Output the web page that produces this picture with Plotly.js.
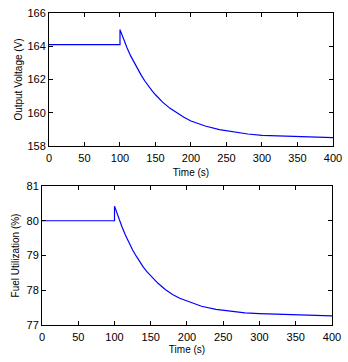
<!DOCTYPE html>
<html>
<head>
<meta charset="utf-8">
<script src="https://cdn.plot.ly/plotly-3.0.1.min.js"></script>
<style>
  html, body { margin: 0; padding: 0; background: #fff; }
  #chart { width: 348px; height: 362px; }
</style>
</head>
<body>
<div id="chart"></div>
<script>
// time axis (s), shared by both panels
var time = [0, 100, 100, 105, 110, 115, 120, 125, 130, 135, 140, 145, 150, 160,
  170, 180, 190, 200, 210, 220, 240, 260, 280, 300, 325, 350, 375, 400];

// output voltage (V)
var voltage = [164.1, 164.1, 165.0, 164.43, 163.9, 163.42, 163.0, 162.6, 162.25,
  161.91, 161.6, 161.33, 161.08, 160.64, 160.28, 159.98, 159.73, 159.5, 159.34,
  159.2, 158.98, 158.83, 158.72, 158.64, 158.6, 158.56, 158.53, 158.5];

// fuel utilization (%)
var fuel = [80.0, 80.0, 80.42, 80.12, 79.84, 79.59, 79.36, 79.16, 78.98, 78.81,
  78.66, 78.53, 78.42, 78.2, 78.02, 77.88, 77.77, 77.69, 77.61, 77.54, 77.45,
  77.39, 77.35, 77.33, 77.31, 77.3, 77.28, 77.26];

var xTicks = [0, 50, 100, 150, 200, 250, 300, 350, 400];

var data = [
  {
    x: time,
    y: voltage,
    type: "scatter",
    mode: "lines",
    line: { color: "#0000ff", width: 1.2 },
    xaxis: "x",
    yaxis: "y",
  },
  {
    x: time,
    y: fuel,
    type: "scatter",
    mode: "lines",
    line: { color: "#0000ff", width: 1.2 },
    xaxis: "x2",
    yaxis: "y2",
  },
];

var axisStyle = {
  showline: true,
  linecolor: "#000",
  linewidth: 1,
  mirror: "allticks",
  ticks: "inside",
  ticklen: 4,
  tickcolor: "#000",
  showgrid: false,
  zeroline: false,
  tickfont: { family: "Liberation Sans, Arial, sans-serif", size: 11, color: "#000" },
};

function ax(extra) {
  return Object.assign({}, axisStyle, extra);
}

var titleFont = { family: "Liberation Sans, Arial, sans-serif", size: 10, color: "#000" };

var layout = {
  width: 348,
  height: 362,
  margin: { l: 0, r: 0, t: 0, b: 0 },
  paper_bgcolor: "#fff",
  plot_bgcolor: "#fff",
  showlegend: false,
  xaxis: ax({
    domain: [0.1408, 0.9569],
    range: [0, 400],
    tickvals: xTicks,
    anchor: "y",
    ticklabelstandoff: 2,
    title: { text: "Time (s)", font: titleFont, standoff: 5 },
  }),
  yaxis: ax({
    domain: [0.5967, 0.9641],
    range: [158, 166],
    dtick: 2,
    anchor: "x",
    title: { text: "Output Voltage (V)", font: titleFont, standoff: 2 },
  }),
  xaxis2: ax({
    domain: [0.1207, 0.954],
    range: [0, 400],
    tickvals: xTicks,
    anchor: "y2",
    ticklabelstandoff: 2,
    title: { text: "Time (s)", font: titleFont, standoff: 3 },
  }),
  yaxis2: ax({
    domain: [0.1022, 0.4862],
    range: [77, 81],
    dtick: 1,
    anchor: "x2",
    title: { text: "Fuel Utilization (%)", font: titleFont, standoff: 5 },
  }),
};

Plotly.newPlot("chart", data, layout, { displayModeBar: false, staticPlot: true });
</script>
</body>
</html>
